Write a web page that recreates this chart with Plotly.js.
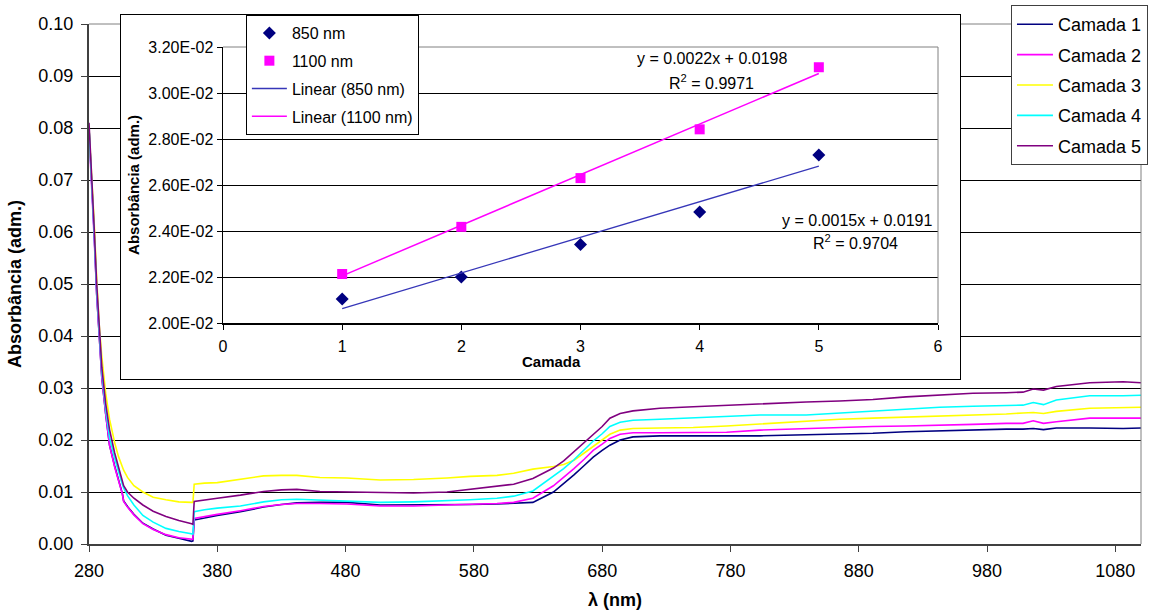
<!DOCTYPE html>
<html>
<head>
<meta charset="utf-8">
<script src="https://cdn.plot.ly/plotly-3.0.1.min.js"></script>
<style>
  html, body { margin: 0; padding: 0; background: #fff; }
  #wrap { position: relative; width: 1153px; height: 610px; }
  #main { position: absolute; left: 0; top: 0; width: 1153px; height: 610px; }
  #inset { position: absolute; left: 121px; top: 15px; width: 839px; height: 364px; outline: 1px solid #000; background: #fff; }
</style>
</head>
<body>
<div id="wrap">
  <div id="main"></div>
  <div id="inset"></div>
</div>
<script>
// ---------- Main spectrum data ----------
const wavelength = [280, 282, 284, 286, 288, 290, 293, 296, 300, 303, 306, 307, 310, 315, 322, 330, 340, 350, 360, 361,
  362, 370, 380, 398, 416, 430, 442, 460, 481, 507,
  533, 559, 577, 598, 611, 626, 642, 650, 658, 666,
  673, 680, 686, 694, 704, 725, 751, 777, 803, 839,
  865, 891, 917, 943, 969, 995, 1008, 1016, 1024, 1034,
  1060, 1086, 1100];

const camada1 = [0.080, 0.071, 0.060, 0.048, 0.039, 0.032, 0.025, 0.019, 0.0150, 0.0125, 0.0097, 0.0083, 0.0072, 0.0057, 0.0040, 0.0029, 0.0017, 0.0011, 0.0005, 0.0006,
  0.0046, 0.0050, 0.0055, 0.0062, 0.0071, 0.0076, 0.0079, 0.0080, 0.0080, 0.0075,
  0.0075, 0.0075, 0.0076, 0.0077, 0.0078, 0.0080, 0.0100, 0.0116, 0.0133, 0.0151,
  0.0167, 0.0180, 0.0190, 0.0200, 0.0206, 0.0208, 0.0208, 0.0208, 0.0208, 0.0210,
  0.0211, 0.0213, 0.0216, 0.0218, 0.0220, 0.0221, 0.0221, 0.0222, 0.0220, 0.0223,
  0.0223, 0.0222, 0.0223];

const camada2 = [0.079, 0.070, 0.059, 0.048, 0.039, 0.032, 0.025, 0.019, 0.0148, 0.0122, 0.0096, 0.0082, 0.0071, 0.0056, 0.0039, 0.0028, 0.0018, 0.0012, 0.0008, 0.0009,
  0.0049, 0.0053, 0.0057, 0.0064, 0.0072, 0.0076, 0.0078, 0.0078, 0.0077, 0.0073,
  0.0073, 0.0075, 0.0076, 0.0078, 0.0080, 0.0088, 0.0112, 0.0128, 0.0145, 0.0163,
  0.0180, 0.0192, 0.0203, 0.0211, 0.0214, 0.0214, 0.0214, 0.0215, 0.0219, 0.0222,
  0.0224, 0.0226, 0.0227, 0.0228, 0.0230, 0.0232, 0.0232, 0.0237, 0.0232, 0.0235,
  0.0242, 0.0242, 0.0242];

const camada3 = [0.080, 0.072, 0.062, 0.051, 0.042, 0.036, 0.029, 0.024, 0.0195, 0.0168, 0.0148, 0.0142, 0.0128, 0.0112, 0.0100, 0.0090, 0.0085, 0.0081, 0.0080, 0.0080,
  0.0115, 0.0117, 0.0118, 0.0124, 0.0131, 0.0132, 0.0132, 0.0128, 0.0127, 0.0123,
  0.0124, 0.0127, 0.0130, 0.0132, 0.0136, 0.0144, 0.0149, 0.0153, 0.0161, 0.0175,
  0.0187, 0.0200, 0.0211, 0.0219, 0.0222, 0.0223, 0.0224, 0.0227, 0.0231, 0.0237,
  0.0240, 0.0242, 0.0244, 0.0245, 0.0248, 0.0250, 0.0252, 0.0253, 0.0251, 0.0255,
  0.0261, 0.0262, 0.0263];

const camada4 = [0.080, 0.071, 0.060, 0.049, 0.040, 0.033, 0.026, 0.0205, 0.0165, 0.0138, 0.0115, 0.0108, 0.0093, 0.0075, 0.0055, 0.0042, 0.0030, 0.0024, 0.0019, 0.0019,
  0.0062, 0.0066, 0.0069, 0.0073, 0.0081, 0.0085, 0.0086, 0.0084, 0.0083, 0.0080,
  0.0081, 0.0083, 0.0085, 0.0088, 0.0092, 0.0102, 0.0130, 0.0145, 0.0162, 0.0182,
  0.0198, 0.0212, 0.0226, 0.0234, 0.0238, 0.0240, 0.0243, 0.0245, 0.0248, 0.0248,
  0.0252, 0.0256, 0.0260, 0.0263, 0.0265, 0.0267, 0.0267, 0.0272, 0.0268, 0.0277,
  0.0285, 0.0285, 0.0286];

const camada5 = [0.081, 0.072, 0.061, 0.050, 0.041, 0.034, 0.027, 0.022, 0.0175, 0.0150, 0.0125, 0.0112, 0.0100, 0.0088, 0.0075, 0.0063, 0.0053, 0.0045, 0.0039, 0.0038,
  0.0082, 0.0085, 0.0088, 0.0094, 0.0101, 0.0104, 0.0105, 0.0101, 0.0100, 0.0098,
  0.0098, 0.0100, 0.0105, 0.0110, 0.0115, 0.0126, 0.0146, 0.0160, 0.0178, 0.0196,
  0.0210, 0.0226, 0.0242, 0.0251, 0.0256, 0.0261, 0.0264, 0.0267, 0.0269, 0.0273,
  0.0275, 0.0278, 0.0283, 0.0287, 0.0290, 0.0291, 0.0292, 0.0298, 0.0296, 0.0303,
  0.0310, 0.0312, 0.0310];

const seriesNames = ['Camada 1', 'Camada 2', 'Camada 3', 'Camada 4', 'Camada 5'];

// ---------- Inset data ----------
const camadas = [1, 2, 3, 4, 5];
const abs850 = [0.02104, 0.02200, 0.02341, 0.02483, 0.02730];
const abs1100 = [0.02213, 0.02418, 0.02630, 0.02842, 0.03112];
const trendX = [1, 5];
const trend850 = [0.02063, 0.02682];
const trend1100 = [0.02205, 0.03085];
const insetTickVals = [0.020, 0.022, 0.024, 0.026, 0.028, 0.030, 0.032];
const insetTickText = ['2.00E-02', '2.20E-02', '2.40E-02', '2.60E-02', '2.80E-02', '3.00E-02', '3.20E-02'];

const FONT = 'Liberation Sans, Arial, sans-serif';
const colors = ['#000080', '#FF00FF', '#FFFF00', '#00FFFF', '#800080'];
const allY = [camada1, camada2, camada3, camada4, camada5];

const mainTraces = allY.map((ys, i) => ({
  type: 'scatter', mode: 'lines', x: wavelength, y: ys, name: seriesNames[i],
  legendgroup: 'g' + i,
  line: { color: colors[i], width: 1.6 }
}));

const mainLayout = {
  width: 1153, height: 610,
  margin: { l: 89, r: 12, t: 24, b: 66, autoexpand: false },
  paper_bgcolor: '#fff', plot_bgcolor: '#fff',
  font: { family: FONT, color: '#000', size: 18 },
  showlegend: true,
  legend: {
    x: 0.8764, y: 1.0365, xanchor: 'left', yanchor: 'top',
    bgcolor: '#fff', bordercolor: '#404040', borderwidth: 1,
    font: { family: FONT, size: 18, color: '#000' },
    tracegroupgap: 4, itemwidth: 36
  },
  xaxis: {
    range: [280, 1100], tick0: 280, dtick: 100,
    ticks: 'outside', ticklen: 6, tickcolor: '#404040',
    showline: true, linecolor: '#404040', linewidth: 2,
    showgrid: false, zeroline: false, ticklabelstandoff: 3,
    tickfont: { family: FONT, size: 18 },
    title: { text: '<b>λ (nm)</b>', font: { family: FONT, size: 18 }, standoff: 14 }
  },
  yaxis: {
    range: [0, 0.1], dtick: 0.01, tickformat: '.2f',
    ticks: 'outside', ticklen: 6, tickcolor: '#404040',
    showline: true, linecolor: '#404040', linewidth: 2,
    showgrid: true, gridcolor: '#000', gridwidth: 1, zeroline: false,
    ticklabelstandoff: 4,
    tickfont: { family: FONT, size: 18 },
    title: { text: '<b>Absorbância (adm.)</b>', font: { family: FONT, size: 18 }, standoff: 12 }
  },
  shapes: [
    { type: 'line', xref: 'paper', yref: 'paper', x0: 0, x1: 1, y0: 1, y1: 1, line: { color: '#808080', width: 1 }, layer: 'above' },
    { type: 'line', xref: 'paper', yref: 'paper', x0: 1, x1: 1, y0: 0, y1: 1, line: { color: '#808080', width: 1 }, layer: 'above' }
  ]
};

Plotly.newPlot('main', mainTraces, mainLayout, { staticPlot: true, displayModeBar: false });

// ---------- Inset ----------
const insetTraces = [
  { type: 'scatter', mode: 'markers', x: camadas, y: abs850, name: '850 nm', legendgroup: 'a',
    marker: { symbol: 'diamond', color: '#000080', size: 10 } },
  { type: 'scatter', mode: 'markers', x: camadas, y: abs1100, name: '1100 nm', legendgroup: 'b',
    marker: { symbol: 'square', color: '#FF00FF', size: 10 } },
  { type: 'scatter', mode: 'lines', x: trendX, y: trend850, name: 'Linear (850 nm)', legendgroup: 'c',
    line: { color: '#3636B8', width: 1.3 } },
  { type: 'scatter', mode: 'lines', x: trendX, y: trend1100, name: 'Linear (1100 nm)', legendgroup: 'd',
    line: { color: '#FF00FF', width: 1.5 } }
];

const ann = (x, y, text, extra) => Object.assign({
  xref: 'paper', yref: 'paper', x: x, y: y, text: text, showarrow: false,
  xanchor: 'center', yanchor: 'middle', font: { size: 16 }
}, extra || {});

const insetLayout = {
  width: 839, height: 364,
  margin: { l: 102, r: 22, t: 32, b: 56, autoexpand: false },
  paper_bgcolor: '#fff', plot_bgcolor: '#fff',
  font: { family: FONT, color: '#000', size: 16 },
  showlegend: true,
  legend: {
    x: 0.032, y: 1.116, xanchor: 'left', yanchor: 'top',
    bgcolor: '#fff', bordercolor: '#000', borderwidth: 1,
    font: { family: FONT, size: 16, color: '#000' },
    tracegroupgap: 4, itemwidth: 35
  },
  xaxis: {
    range: [0, 6], dtick: 1, tick0: 0,
    ticks: 'outside', ticklen: 5, tickcolor: '#000',
    showline: true, linecolor: '#000', linewidth: 1.5,
    showgrid: false, zeroline: false, ticklabelstandoff: 3,
    tickfont: { family: FONT, size: 16 }
  },
  yaxis: {
    range: [0.02, 0.032], tickvals: insetTickVals, ticktext: insetTickText,
    ticks: 'outside', ticklen: 5, tickcolor: '#000',
    showline: true, linecolor: '#000', linewidth: 1.5,
    showgrid: true, gridcolor: '#000', gridwidth: 1, zeroline: false,
    tickfont: { family: FONT, size: 16 }
  },
  annotations: [
    ann(0.684, 0.957, 'y = 0.0022x + 0.0198'),
    ann(0.683, 0.873, 'R<sup>2</sup> = 0.9971'),
    ann(0.887, 0.370, 'y = 0.0015x + 0.0191'),
    ann(0.885, 0.293, 'R<sup>2</sup> = 0.9704'),
    ann(0.460, -0.141, '<b>Camada</b>', { font: { size: 15 } }),
    ann(-0.126, 0.5, '<b>Absorbância (adm.)</b>', { textangle: -90, font: { size: 15 } })
  ],
  shapes: [
    { type: 'line', xref: 'paper', yref: 'paper', x0: 0, x1: 1, y0: 1, y1: 1, line: { color: '#808080', width: 1 }, layer: 'above' },
    { type: 'line', xref: 'paper', yref: 'paper', x0: 1, x1: 1, y0: 0, y1: 1, line: { color: '#808080', width: 1 }, layer: 'above' }
  ]
};

Plotly.newPlot('inset', insetTraces, insetLayout, { staticPlot: true, displayModeBar: false });
</script>
</body>
</html>
